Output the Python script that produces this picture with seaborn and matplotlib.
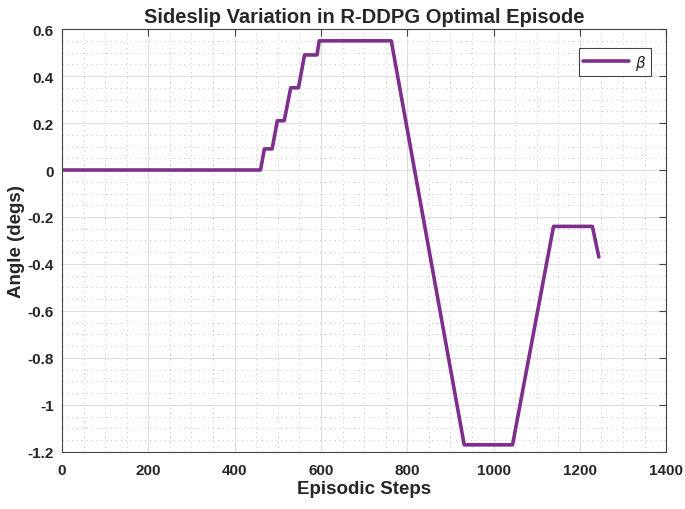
import seaborn as sns
import pandas as pd
import matplotlib.pyplot as plt
import matplotlib.ticker as mticker

# breakpoints of the sideslip trace
steps = [0, 460, 469, 487, 499, 515, 530, 548, 562, 591, 596, 763, 932, 1044, 1139, 1229, 1244]
beta = [0, 0, 0.09, 0.09, 0.21, 0.21, 0.35, 0.35, 0.49, 0.49, 0.55, 0.55, -1.17, -1.17, -0.24, -0.24, -0.37]

data = pd.DataFrame({"step": steps, "beta": beta})

sns.set_theme(style="white")
plt.rcParams['font.family'] = ['Liberation Sans', 'DejaVu Sans']
plt.rcParams['axes.unicode_minus'] = False
txt = "#262626"

fig = plt.figure(figsize=(6.85, 5.1), dpi=100)
ax = fig.add_axes([0.0905, 0.112, 0.882, 0.829])
sns.lineplot(x="step", y="beta", data=data, color="#7E2F8E", linewidth=2.6, label=r"$\beta$", ax=ax)

ax.set_xlim(0, 1400)
ax.set_ylim(-1.2, 0.6)
ax.xaxis.set_major_locator(mticker.MultipleLocator(200))
ax.xaxis.set_minor_locator(mticker.MultipleLocator(50))
ax.yaxis.set_major_locator(mticker.MultipleLocator(0.2))
ax.yaxis.set_minor_locator(mticker.MultipleLocator(0.05))
ax.yaxis.set_major_formatter(mticker.FuncFormatter(lambda v, p: "%g" % round(v, 2)))
ax.grid(which="major", color="#dedede", linewidth=0.8)
ax.grid(which="minor", color="#c4c4c4", linestyle=(0, (1, 4)), linewidth=0.7)
ax.set_axisbelow(True)
ax.tick_params(which="both", direction="in", top=True, right=True, labelsize=11, labelcolor=txt)
ax.tick_params(axis="x", which="major", pad=8)
ax.tick_params(axis="y", which="major", pad=6)
ax.tick_params(which="major", length=5, width=0.8, color="#444444")
ax.tick_params(which="minor", length=0)
for lbl in ax.get_xticklabels() + ax.get_yticklabels():
    lbl.set_fontweight("bold")
for s in ax.spines.values():
    s.set_color("#444444")
    s.set_linewidth(0.8)

ax.set_xlabel("Episodic Steps", fontsize=13.5, fontweight="bold", labelpad=2, color=txt)
ax.set_ylabel("Angle (degs)", fontsize=13.5, fontweight="bold", labelpad=2, color=txt)
ax.set_title("Sideslip Variation in R-DDPG Optimal Episode", fontsize=14.5, fontweight="bold", pad=5, color=txt)

leg = ax.legend(loc="upper right", fontsize=11, fancybox=False, framealpha=1,
                edgecolor="#444444", handlelength=3.0, handletextpad=0.4, borderpad=0.3,
                borderaxespad=0, bbox_to_anchor=(0.975, 0.955))
leg.get_frame().set_linewidth(0.8)

fig.savefig("out.png", dpi=100)
